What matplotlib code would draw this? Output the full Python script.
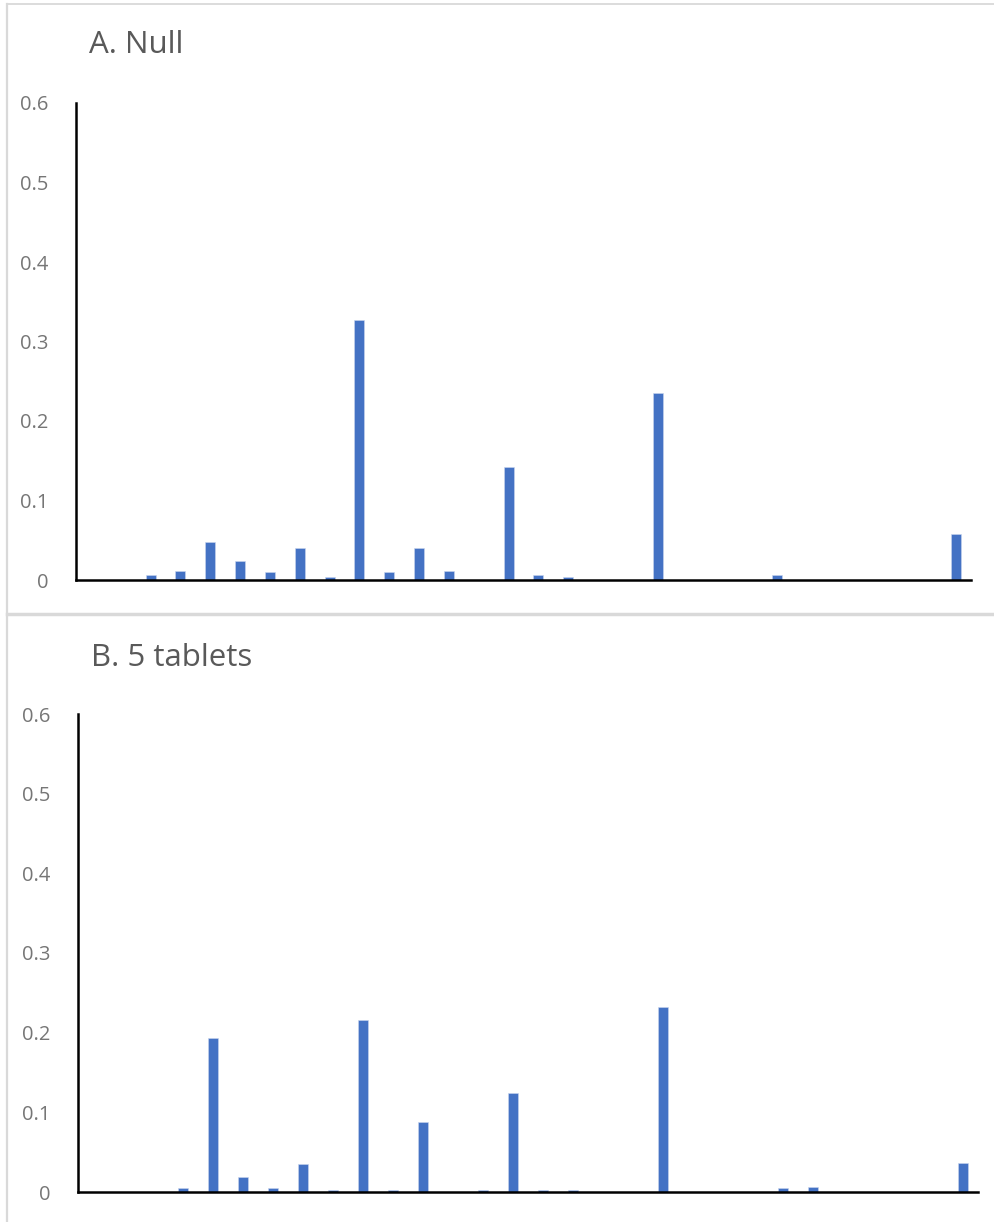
import numpy as np
import matplotlib.pyplot as plt
from matplotlib.lines import Line2D

plt.rcParams['font.family'] = ['Open Sans', 'DejaVu Sans']

# 30 categories, no x tick labels shown
n_cat = 30
x = np.arange(n_cat)

# A. Null
null_vals = [0, 0, 0.006, 0.011, 0.048, 0.024, 0.010, 0.040, 0.004, 0.327,
             0.010, 0.040, 0.011, 0, 0.142, 0.006, 0.004, 0, 0, 0.235,
             0, 0, 0, 0.006, 0, 0, 0, 0, 0, 0.058]

# B. 5 tablets
tab5_vals = [0, 0, 0, 0.005, 0.193, 0.019, 0.005, 0.035, 0.003, 0.216,
             0.003, 0.088, 0, 0.003, 0.124, 0.003, 0.003, 0, 0, 0.232,
             0, 0, 0, 0.005, 0.006, 0, 0, 0, 0, 0.037]

titles = ["A. Null", "B. 5 tablets"]
yticks = [0, 0.1, 0.2, 0.3, 0.4, 0.5, 0.6]
ytick_labels = ["0", "0.1", "0.2", "0.3", "0.4", "0.5", "0.6"]

W, H = 995, 1222
fig = plt.figure(figsize=(W / 100, H / 100), dpi=100)

bar_color = '#4472C4'
border = '#d9d9d9'

# axes rectangles in pixels: left, right, top(0.6), bottom(0)
boxes = [(76, 971, 103, 580), (78, 978, 714, 1192)]
title_pos = [(89, 45), (91, 658)]

for vals, title, (l, r, t, b), (tx, ty) in zip([null_vals, tab5_vals], titles, boxes, title_pos):
    ax = fig.add_axes([l / W, 1 - b / H, (r - l) / W, (b - t) / H])
    ax.bar(x, vals, width=0.33, color=bar_color, edgecolor='#c9d6ee', linewidth=0.4)
    ax.set_xlim(-0.5, n_cat - 0.5)
    ax.set_ylim(0, 0.6)
    ax.set_yticks(yticks)
    ax.set_yticklabels(ytick_labels)
    ax.set_xticks([])
    ax.tick_params(axis='y', length=0, pad=20, labelsize=14.5, labelcolor='#767676')
    for s in ['top', 'right']:
        ax.spines[s].set_visible(False)
    for s in ['left', 'bottom']:
        ax.spines[s].set_linewidth(1.8)
        ax.spines[s].set_color('black')
    ax.patch.set_alpha(0)
    fig.text(tx / W, 1 - ty / H, title, fontsize=22.5, color='#595959', va='center', ha='left')

# chart frames (light gray borders)
def hline(y, x0, x1, lw):
    fig.add_artist(Line2D([x0 / W, x1 / W], [1 - y / H, 1 - y / H], color=border, lw=lw,
                          transform=fig.transFigure))

def vline(xp, y0, y1, lw):
    fig.add_artist(Line2D([xp / W, xp / W], [1 - y0 / H, 1 - y1 / H], color=border, lw=lw,
                          transform=fig.transFigure))

hline(4, 7, W + 5, 1.3)
hline(614, 7, W + 5, 2.5)
vline(7, 4, H + 5, 1.6)

fig.savefig('out.png', dpi=100)
